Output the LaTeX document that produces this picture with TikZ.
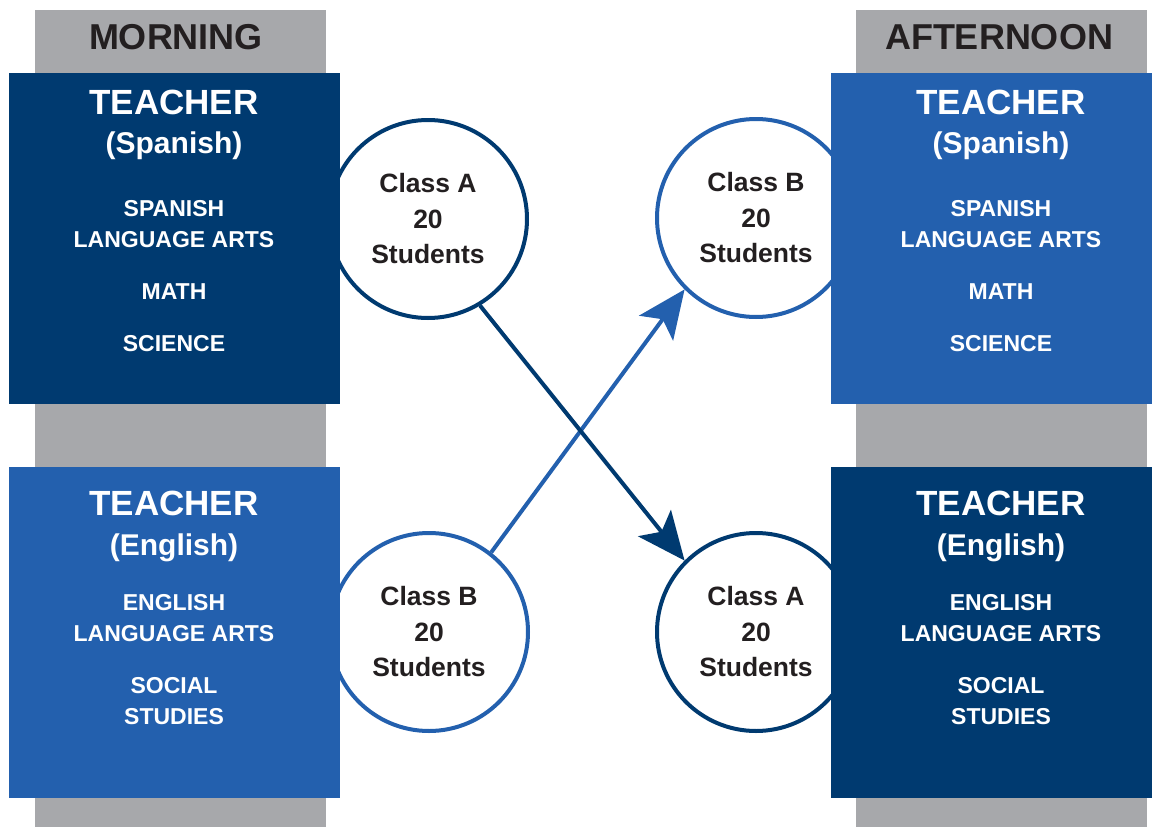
\documentclass[tikz,border=0pt]{standalone}
\usepackage{fontspec}
\setmainfont{Liberation Sans}
\usepackage{tikz}
\usetikzlibrary{arrows.meta}

\definecolor{navy}{RGB}{0,58,112}
\definecolor{midblue}{RGB}{35,96,174}
\definecolor{bargray}{RGB}{167,168,171}
\definecolor{ink}{RGB}{35,31,32}

\newcommand{\setfs}[2]{\fontsize{#1}{#2}\selectfont\bfseries}

\begin{document}
\begin{tikzpicture}[x=1pt,y=-1pt,
  teacherbox/.style={rectangle,inner sep=0pt,minimum height=331pt,anchor=north west},
  classnode/.style={circle,draw,fill=white,line width=4pt,minimum size=198pt,
                    inner sep=0pt,align=center,text=ink,font=\setfs{26.5}{35.5}},
  head/.style={text=ink,font=\setfs{36}{36},anchor=base},
  title/.style={text=white,font=\setfs{35}{35},anchor=base},
  subtitle/.style={text=white,font=\setfs{30}{30},anchor=base},
  subject/.style={text=white,font=\setfs{23}{31},anchor=base},
  swap/.style={line width=4pt,-{Stealth[length=48pt,width=42pt,inset=11pt]}}]
\useasboundingbox (0,0) rectangle (1152,827);

% grey columns behind the boxes
\fill[bargray] (35,10) rectangle (326,827);
\fill[bargray] (856,10) rectangle (1147,827);
\node[head] (morning) at (176,49) {MORNING};
\node[head] (afternoon) at (999,49) {AFTERNOON};

% classes
\node[classnode,draw=navy]    (ca1) at (428,219) {Class A\\20\\Students};
\node[classnode,draw=midblue] (cb1) at (429,632) {Class B\\20\\Students};
\node[classnode,draw=midblue] (cb2) at (756,218) {Class B\\20\\Students};
\node[classnode,draw=navy]    (ca2) at (756,632) {Class A\\20\\Students};

% teachers
\node[teacherbox,fill=navy,minimum width=331pt]    (spam) at (9,73) {};
\node[teacherbox,fill=midblue,minimum width=331pt] (engm) at (9,467) {};
\node[teacherbox,fill=midblue,minimum width=321pt] (spaa) at (831,73) {};
\node[teacherbox,fill=navy,minimum width=321pt]    (enga) at (831,467) {};

\foreach \x/\side in {174/m,1001/a} {
  \node[title] (spat\side) at (\x,114) {TEACHER};
  \node[subtitle] (spas\side) at (\x,153) {(Spanish)};
  \foreach \txt/\y [count=\i] in {SPANISH/216,LANGUAGE ARTS/247,MATH/299,SCIENCE/351}
    \node[subject] (spal\side\i) at (\x,\y) {\txt};
  \node[title] (engt\side) at (\x,515) {TEACHER};
  \node[subtitle] (engs\side) at (\x,555) {(English)};
  \foreach \txt/\y [count=\i] in {ENGLISH/610,LANGUAGE ARTS/641,SOCIAL/693,STUDIES/724}
    \node[subject] (engl\side\i) at (\x,\y) {\txt};
}

% classes swap teachers at noon
\draw[swap,midblue] (cb1.52) -- (cb2.225);
\draw[swap,navy] (ca1.-59) -- (ca2.135);
\end{tikzpicture}
\end{document}
